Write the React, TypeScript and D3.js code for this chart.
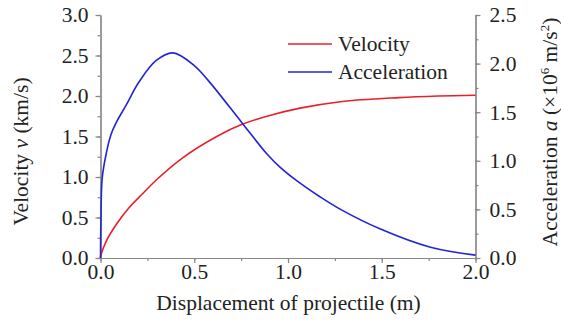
import React, { useEffect, useRef } from 'react';
import * as d3 from 'd3';

// velocity curve (left axis, km/s)
const velX = [0, 0.003, 0.029, 0.083, 0.152, 0.227, 0.296, 0.44, 0.62, 0.755, 0.888, 1.064, 1.28, 1.59, 1.8, 2.0];
const velY = [0, 0.04, 0.2, 0.41, 0.62, 0.8, 0.96, 1.24, 1.5, 1.65, 1.75, 1.85, 1.93, 1.98, 2.0, 2.01];

// acceleration curve (right axis, x10^6 m/s^2)
const accX = [0, 0.002, 0.009, 0.029, 0.056, 0.083, 0.136, 0.205, 0.296, 0.386, 0.5, 0.573, 0.755, 0.888, 0.96, 1.05, 1.17, 1.28, 1.49, 1.76, 2.0];
const accY = [0, 0.35, 0.82, 1.06, 1.27, 1.39, 1.57, 1.81, 2.03, 2.11, 1.98, 1.83, 1.39, 1.07, 0.93, 0.79, 0.63, 0.5, 0.3, 0.11, 0.03];

const xTicks = [0, 0.5, 1.0, 1.5, 2.0];
const leftTicks = [0, 0.5, 1.0, 1.5, 2.0, 2.5, 3.0];
const rightTicks = [0, 0.5, 1.0, 1.5, 2.0, 2.5];

const font = '"Liberation Serif", "Times New Roman", serif';
const fontSize = '21.5px';

const App = () => {
  const svgRef = useRef<SVGSVGElement>(null);

  useEffect(() => {
    const svg = d3.select(svgRef.current);
    svg.selectAll('*').remove();

    const x = d3.scaleLinear().domain([0, 2]).range([100.5, 475.5]);
    const yL = d3.scaleLinear().domain([0, 3]).range([258, 15]);
    const yR = d3.scaleLinear().domain([0, 2.5]).range([258, 15]);

    const axisColor = '#888';
    const textColor = '#222';

    const styleAxis = (g: any) => {
      g.select('.domain').attr('stroke', axisColor).attr('stroke-width', 1.2);
      g.selectAll('.tick line').attr('stroke', axisColor).attr('stroke-width', 1.2);
      g.selectAll('.tick text')
        .attr('fill', textColor)
        .style('font-family', font)
        .style('font-size', fontSize);
    };

    // minor ticks
    svg.append('g')
      .attr('transform', `translate(${x(0)},0)`)
      .call(d3.axisLeft(yL).tickValues(d3.range(0, 3.01, 0.25)).tickSize(3).tickFormat(() => '').tickSizeOuter(0))
      .call(styleAxis);
    svg.append('g')
      .attr('transform', `translate(${x(2)},0)`)
      .call(d3.axisRight(yR).tickValues(d3.range(0, 2.51, 0.25)).tickSize(3).tickFormat(() => '').tickSizeOuter(0))
      .call(styleAxis);
    svg.append('g')
      .attr('transform', `translate(0,${yL(0)})`)
      .call(d3.axisBottom(x).tickValues(d3.range(0, 2.01, 0.25)).tickSize(3).tickFormat(() => '').tickSizeOuter(0))
      .call(styleAxis);

    // major ticks
    svg.append('g')
      .attr('transform', `translate(${x(0)},0)`)
      .call(d3.axisLeft(yL).tickValues(leftTicks).tickSize(5).tickPadding(7).tickFormat(d3.format('.1f')).tickSizeOuter(0))
      .call(styleAxis);
    svg.append('g')
      .attr('transform', `translate(${x(2)},0)`)
      .call(d3.axisRight(yR).tickValues(rightTicks).tickSize(5).tickPadding(9).tickFormat(d3.format('.1f')).tickSizeOuter(0))
      .call(styleAxis);
    svg.append('g')
      .attr('transform', `translate(0,${yL(0)})`)
      .call(d3.axisBottom(x).tickValues(xTicks).tickSize(5).tickPadding(1).tickFormat(d3.format('.1f')).tickSizeOuter(0))
      .call(styleAxis);

    const lineV = d3.line<number>()
      .x((d, i) => x(velX[i]))
      .y(d => yL(d))
      .curve(d3.curveCatmullRom.alpha(0.5));
    const lineA = d3.line<number>()
      .x((d, i) => x(accX[i]))
      .y(d => yR(d))
      .curve(d3.curveCatmullRom.alpha(0.5));

    svg.append('path')
      .datum(velY)
      .attr('fill', 'none')
      .attr('stroke', '#e8202a')
      .attr('stroke-width', 1.6)
      .attr('d', lineV);

    svg.append('path')
      .datum(accY)
      .attr('fill', 'none')
      .attr('stroke', '#2323d8')
      .attr('stroke-width', 1.6)
      .attr('d', lineA);

    // legend
    const legend = [
      { label: 'Velocity', color: '#e8202a', y: 44 },
      { label: 'Acceleration', color: '#2323d8', y: 72 },
    ];
    legend.forEach(l => {
      svg.append('line')
        .attr('x1', 288).attr('x2', 332)
        .attr('y1', l.y).attr('y2', l.y)
        .attr('stroke', l.color)
        .attr('stroke-width', 1.6);
      svg.append('text')
        .attr('x', 338)
        .attr('y', l.y + 6.5)
        .attr('fill', textColor)
        .style('font-family', font)
        .style('font-size', fontSize)
        .text(l.label);
    });

    // x axis title
    svg.append('text')
      .attr('x', 288.5)
      .attr('y', 310)
      .attr('text-anchor', 'middle')
      .attr('fill', textColor)
      .style('font-family', font)
      .style('font-size', fontSize)
      .text('Displacement of projectile (m)');

    // left axis title
    const lt = svg.append('text')
      .attr('transform', 'translate(28,151.5) rotate(-90)')
      .attr('text-anchor', 'middle')
      .attr('fill', textColor)
      .style('font-family', font)
      .style('font-size', fontSize);
    lt.append('tspan').text('Velocity ');
    lt.append('tspan').style('font-style', 'italic').text('v');
    lt.append('tspan').text(' (km/s)');

    // right axis title
    const rt = svg.append('text')
      .attr('transform', 'translate(557,132) rotate(-90)')
      .attr('text-anchor', 'middle')
      .attr('fill', textColor)
      .style('font-family', font)
      .style('font-size', fontSize);
    rt.append('tspan').text('Acceleration ');
    rt.append('tspan').style('font-style', 'italic').text('a');
    rt.append('tspan').text(' (×10');
    rt.append('tspan').attr('dy', -8).style('font-size', '13px').text('6');
    rt.append('tspan').attr('dy', 8).text(' m/s');
    rt.append('tspan').attr('dy', -8).style('font-size', '13px').text('2');
    rt.append('tspan').attr('dy', 8).text(')');
  }, []);

  return (
    <div style={{ position: 'absolute', left: 0, top: 0, background: '#fff' }}>
      <svg ref={svgRef} width={561} height={321} />
    </div>
  );
};

export default App;
